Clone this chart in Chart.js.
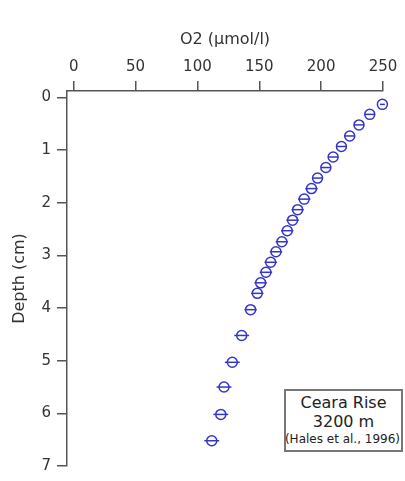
<!DOCTYPE html>
<html>
<head>
<meta charset="utf-8">
<script src="https://cdn.jsdelivr.net/npm/chart.js@4.4.0/dist/chart.umd.min.js"></script>
<style>
    body { margin: 0; background: #fff; }
    #wrap { position: relative; width: 405px; height: 481px; }
    #note {
        position: absolute; left: 284px; top: 389px; width: 115px; height: 59px;
        border: 2px solid #777; background: #fff;
        font-family: "DejaVu Sans", Verdana, sans-serif; color: #222;
        text-align: center;
    }
    #note .big { font-size: 16px; line-height: 19px; }
    #note .big:first-child { margin-top: 2px; }
    #note .small { font-size: 12px; line-height: 16px; white-space: nowrap; margin-left: -2px; }
</style>
</head>
<body>
<div id="wrap">
    <canvas id="o2Chart" width="405" height="481"></canvas>
    <div id="note">
        <div class="big">Ceara Rise</div>
        <div class="big">3200 m</div>
        <div class="small">(Hales et al., 1996)</div>
    </div>
</div>
<script>
// O2 profile
const depthCm = [0.13, 0.32, 0.52, 0.73, 0.93, 1.13, 1.33, 1.53, 1.73, 1.93, 2.13, 2.33, 2.53,
    2.74, 2.93, 3.13, 3.32, 3.52, 3.72, 4.03, 4.52, 5.03, 5.50, 6.02, 6.52];
const o2Values = [249.5, 239.3, 230.6, 223.1, 216.4, 209.7, 203.8, 197.1, 192.2, 186.3, 181.0, 176.9, 172.6,
    168.3, 163.5, 159.2, 155.4, 151.1, 148.4, 143.0, 135.8, 128.2, 121.5, 118.9, 111.6];
const o2Errors = [2, 4, 4, 4, 4, 4, 4, 4, 5, 5, 5, 5, 5,
    5, 5, 5, 5, 5, 5, 5, 6, 6, 6, 6, 6];
const xTickValues = [0, 50, 100, 150, 200, 250];
const yTickValues = [0, 1, 2, 3, 4, 5, 6, 7];

const markerColor = '#3535c8';
const axisColor = '#555';
const textColor = '#333';
const fontFamily = '"DejaVu Sans", Verdana, sans-serif';

// horizontal error bars through each marker
const errorBars = {
    id: 'errorBars',
    afterDatasetsDraw(chart) {
        const ctx = chart.ctx;
        const xs = chart.scales.x;
        const ys = chart.scales.y;
        ctx.save();
        ctx.strokeStyle = markerColor;
        ctx.lineWidth = 1.5;
        o2Values.forEach((v, i) => {
            const y = ys.getPixelForValue(depthCm[i]);
            ctx.beginPath();
            ctx.moveTo(xs.getPixelForValue(v - o2Errors[i]), y);
            ctx.lineTo(xs.getPixelForValue(v + o2Errors[i]), y);
            ctx.stroke();
        });
        ctx.restore();
    }
};

function keepTicks(values) {
    return function(scale) {
        scale.ticks = values.map(v => ({ value: v }));
    };
}

new Chart(document.getElementById('o2Chart'), {
    type: 'scatter',
    data: {
        datasets: [{
            data: o2Values.map((v, i) => ({ x: v, y: depthCm[i] })),
            pointStyle: 'circle',
            pointRadius: 5,
            pointHoverRadius: 5,
            borderColor: markerColor,
            backgroundColor: 'rgba(255,255,255,0)',
            borderWidth: 1.5,
            clip: false
        }]
    },
    options: {
        responsive: false,
        animation: false,
        layout: { padding: { top: 0, left: 0, right: 22, bottom: 11 } },
        plugins: {
            legend: { display: false },
            tooltip: { enabled: false }
        },
        scales: {
            x: {
                type: 'linear',
                position: 'top',
                min: -5.4,
                max: 250,
                afterBuildTicks: keepTicks(xTickValues),
                afterFit(scale) { scale.height = 91; },
                grid: { drawOnChartArea: false, drawTicks: true, tickLength: 10, color: axisColor, lineWidth: 1.5 },
                border: { display: true, color: axisColor, width: 1.5 },
                ticks: { color: textColor, font: { family: fontFamily, size: 15 }, padding: 5, maxRotation: 0 },
                title: {
                    display: true,
                    text: 'O2 (µmol/l)',
                    color: textColor,
                    font: { family: fontFamily, size: 16 },
                    padding: { top: 30, bottom: 0 }
                }
            },
            y: {
                type: 'linear',
                reverse: true,
                min: -0.124,
                max: 7,
                afterBuildTicks: keepTicks(yTickValues),
                afterFit(scale) { scale.width = 67; },
                grid: { drawOnChartArea: false, drawTicks: true, tickLength: 10, color: axisColor, lineWidth: 1.5 },
                border: { display: true, color: axisColor, width: 1.5 },
                ticks: { color: textColor, font: { family: fontFamily, size: 15 }, padding: 6 },
                title: {
                    display: true,
                    text: 'Depth (cm)',
                    color: textColor,
                    font: { family: fontFamily, size: 16 },
                    padding: { top: 10, bottom: 0 }
                }
            }
        }
    },
    plugins: [errorBars]
});
</script>
</body>
</html>
